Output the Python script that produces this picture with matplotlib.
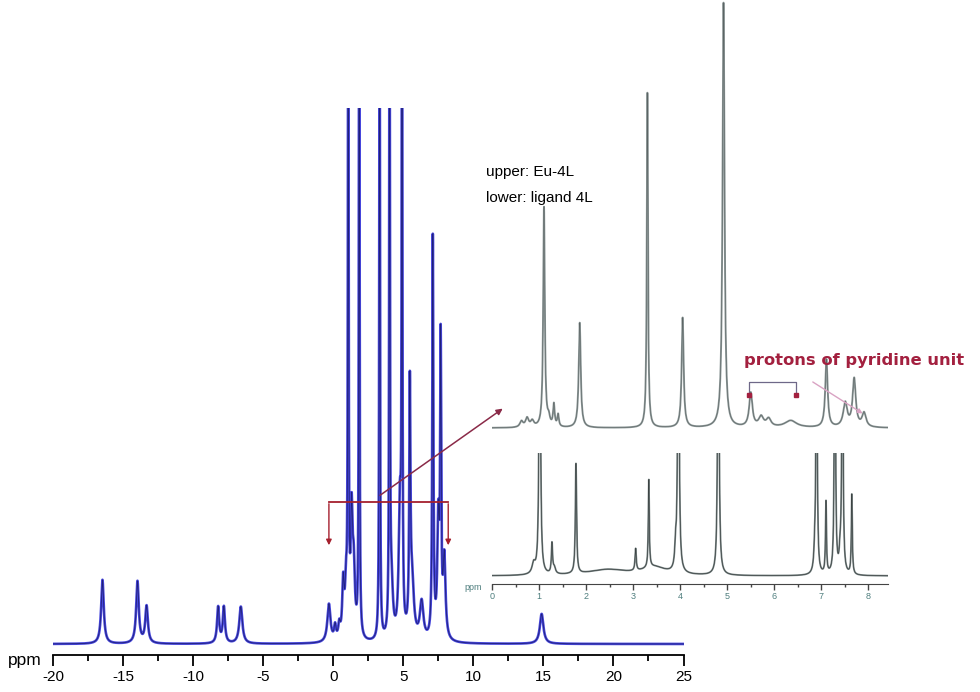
import numpy as np
import matplotlib.pyplot as plt
from matplotlib.ticker import MultipleLocator

plt.rcParams['font.family'] = ['Liberation Sans', 'DejaVu Sans']
plt.rcParams['axes.unicode_minus'] = False

# main spectrum (Eu-4L, wide window): peak position (ppm), height, half width
main_pos = [-16.49, -13.99, -13.34, -8.23, -7.82, -6.61, -0.32, 0.12, 0.42, 0.70, 0.90,
            1.06, 1.30, 1.45, 1.84, 3.30, 4.01, 4.15, 4.75, 4.90, 5.46, 5.62, 6.30,
            7.10, 7.49, 7.66, 7.92, 14.87]
main_hgt = [64, 62, 37, 36, 36, 37, 38, 14, 14, 55, 45,
            700, 115, 65, 700, 700, 700, 50, 130, 700, 240, 55, 38,
            400, 115, 285, 80, 30]
main_wid = [0.11, 0.11, 0.11, 0.09, 0.09, 0.13, 0.13, 0.08, 0.08, 0.08, 0.08,
            0.03, 0.08, 0.10, 0.03, 0.03, 0.03, 0.12, 0.10, 0.03, 0.05, 0.15, 0.15,
            0.045, 0.08, 0.045, 0.10, 0.15]

# inset, upper: Eu-4L
up_pos = [0.62, 0.74, 0.85, 1.10, 1.20, 1.31, 1.40, 1.86, 3.30, 4.05, 4.92,
          5.50, 5.72, 5.88, 6.35, 7.11, 7.51, 7.70, 7.91]
up_hgt = [6, 9, 6, 220, 8, 22, 12, 105, 335, 110, 425,
          34, 10, 8, 7, 68, 24, 48, 14]
up_wid = [0.04, 0.04, 0.04, 0.02, 0.03, 0.02, 0.02, 0.025, 0.015, 0.025, 0.025,
          0.04, 0.06, 0.06, 0.15, 0.03, 0.05, 0.04, 0.05]

# inset, lower: ligand 4L
lo_pos = [0.88, 1.01, 1.27, 1.32, 1.78, 2.45, 3.05, 3.33, 3.45, 3.90, 3.96, 4.81,
          6.86, 6.90, 7.10, 7.29, 7.40, 7.45, 7.65]
lo_hgt = [10, 400, 30, 6, 110, 6, 22, 88, 8, 20, 400, 400,
          16, 400, 72, 400, 17, 400, 80]
lo_wid = [0.04, 0.015, 0.015, 0.03, 0.015, 0.5, 0.015, 0.012, 0.3, 0.02, 0.015, 0.015,
          0.02, 0.012, 0.012, 0.012, 0.02, 0.012, 0.012]

main_ticks = [-20, -15, -10, -5, 0, 5, 10, 15, 20, 25]
inset_ticks = [0, 1, 2, 3, 4, 5, 6, 7, 8]


def spectrum(x, pos, hgt, wid):
    y = np.zeros_like(x)
    for p, h, w in zip(pos, hgt, wid):
        y += h * w**2 / ((x - p)**2 + w**2)
    return y


fig = plt.figure(figsize=(9.8, 6.92), dpi=100)
W, H = 980, 692


def px_axes(x0, y0, x1, y1):
    # axes from pixel box (top-left origin)
    return fig.add_axes([x0 / W, 1 - y1 / H, (x1 - x0) / W, (y1 - y0) / H])


# ---- main spectrum ----
ax = px_axes(53.3, 108, 683.5, 655)
ax.patch.set_alpha(0)
x = np.linspace(-20, 25, 15000)
y = spectrum(x, main_pos, main_hgt, main_wid)
ax.plot(x, y, color='#4646dc', lw=1.9)
ax.plot(x, y, color='#14145a', lw=0.6, alpha=0.75)
ax.set_xlim(-20, 25)
ax.set_ylim(-11, 536)
for s in ['left', 'right', 'top']:
    ax.spines[s].set_visible(False)
ax.spines['bottom'].set_linewidth(1.3)
ax.set_yticks([])
ax.set_xticks(main_ticks)
ax.xaxis.set_minor_locator(MultipleLocator(2.5))
ax.tick_params(axis='x', which='major', length=8, width=1.3, labelsize=11, pad=3)
ax.tick_params(axis='x', which='minor', length=4, width=1.3)
ax.text(-22.0, -16, 'ppm', fontsize=12.5, ha='center', va='center', clip_on=False)

# bracket over the 0-8 ppm region
red = '#a5202e'
ax.plot([-0.32, 8.2], [142, 142], color=red, lw=1.3)
for xe in [-0.32, 8.2]:
    ax.annotate('', xy=(xe, 96), xytext=(xe, 143),
                arrowprops=dict(arrowstyle='-|>', color=red, lw=1.0,
                                mutation_scale=8))

# ---- inset upper: Eu-4L ----
ax_up = px_axes(492.3, 0, 888, 440)
ax_up.patch.set_alpha(0)
xi = np.linspace(0, 8.42, 6000)
ax_up.plot(xi, spectrum(xi, up_pos, up_hgt, up_wid), color='#8f9a9a', lw=1.4)
ax_up.plot(xi, spectrum(xi, up_pos, up_hgt, up_wid), color='#3a4040', lw=0.4, alpha=0.6)
ax_up.set_xlim(0, 8.42)
ax_up.set_ylim(-12, 428)
ax_up.axis('off')

# ---- inset lower: ligand 4L ----
ax_lo = px_axes(492.3, 453, 888, 584)
ax_lo.patch.set_alpha(0)
ax_lo.plot(xi, spectrum(xi, lo_pos, lo_hgt, lo_wid), color='#7f8a8a', lw=1.3)
ax_lo.plot(xi, spectrum(xi, lo_pos, lo_hgt, lo_wid), color='#202626', lw=0.5, alpha=0.7)
ax_lo.set_xlim(0, 8.42)
ax_lo.set_ylim(-8, 123)
for s in ['left', 'right', 'top']:
    ax_lo.spines[s].set_visible(False)
ax_lo.spines['bottom'].set_color('#444444')
ax_lo.set_yticks([])
ax_lo.set_xticks(inset_ticks)
ax_lo.xaxis.set_minor_locator(MultipleLocator(0.5))
ax_lo.tick_params(axis='x', which='major', length=4, width=1, labelsize=6.5,
                  labelcolor='#4f7f7f', color='#444444', pad=2)
ax_lo.tick_params(axis='x', which='minor', length=2.5, width=1, color='#444444')
ax_lo.text(-0.4, -12, 'ppm', fontsize=6.5, color='#4f7f7f', ha='center', va='center',
           clip_on=False)

# arrow from the bracket to the inset
ax_up.annotate('', xy=(0.27, 21), xycoords='data',
               xytext=(3.16, 147), textcoords=ax.transData,
               arrowprops=dict(arrowstyle='-|>', color='#8a2a48', lw=1.1,
                               mutation_scale=9))

# legend text
fig.text(486 / W, 1 - 172 / H, 'upper: Eu-4L', fontsize=11, va='center', ha='left')
fig.text(486 / W, 1 - 198 / H, 'lower: ligand 4L', fontsize=11, va='center', ha='left')

# pyridine annotation
ax_up.text(5.35, 68, 'protons of pyridine unit', fontsize=11.8, fontweight='bold',
           color='#a3203f', family='DejaVu Sans', va='center', ha='left')
ax_up.plot([5.46, 5.46, 6.46, 6.46], [33, 46.5, 46.5, 33], color='#6e6888', lw=0.9)
ax_up.plot([5.46, 6.46], [33, 33], 's', color='#a3203f', ms=2.5)
ax_up.annotate('', xy=(7.93, 13), xytext=(6.77, 47.5),
               arrowprops=dict(arrowstyle='-|>', color='#d9a3c3', lw=1.0,
                               mutation_scale=7))

fig.savefig('out.png', dpi=100)
